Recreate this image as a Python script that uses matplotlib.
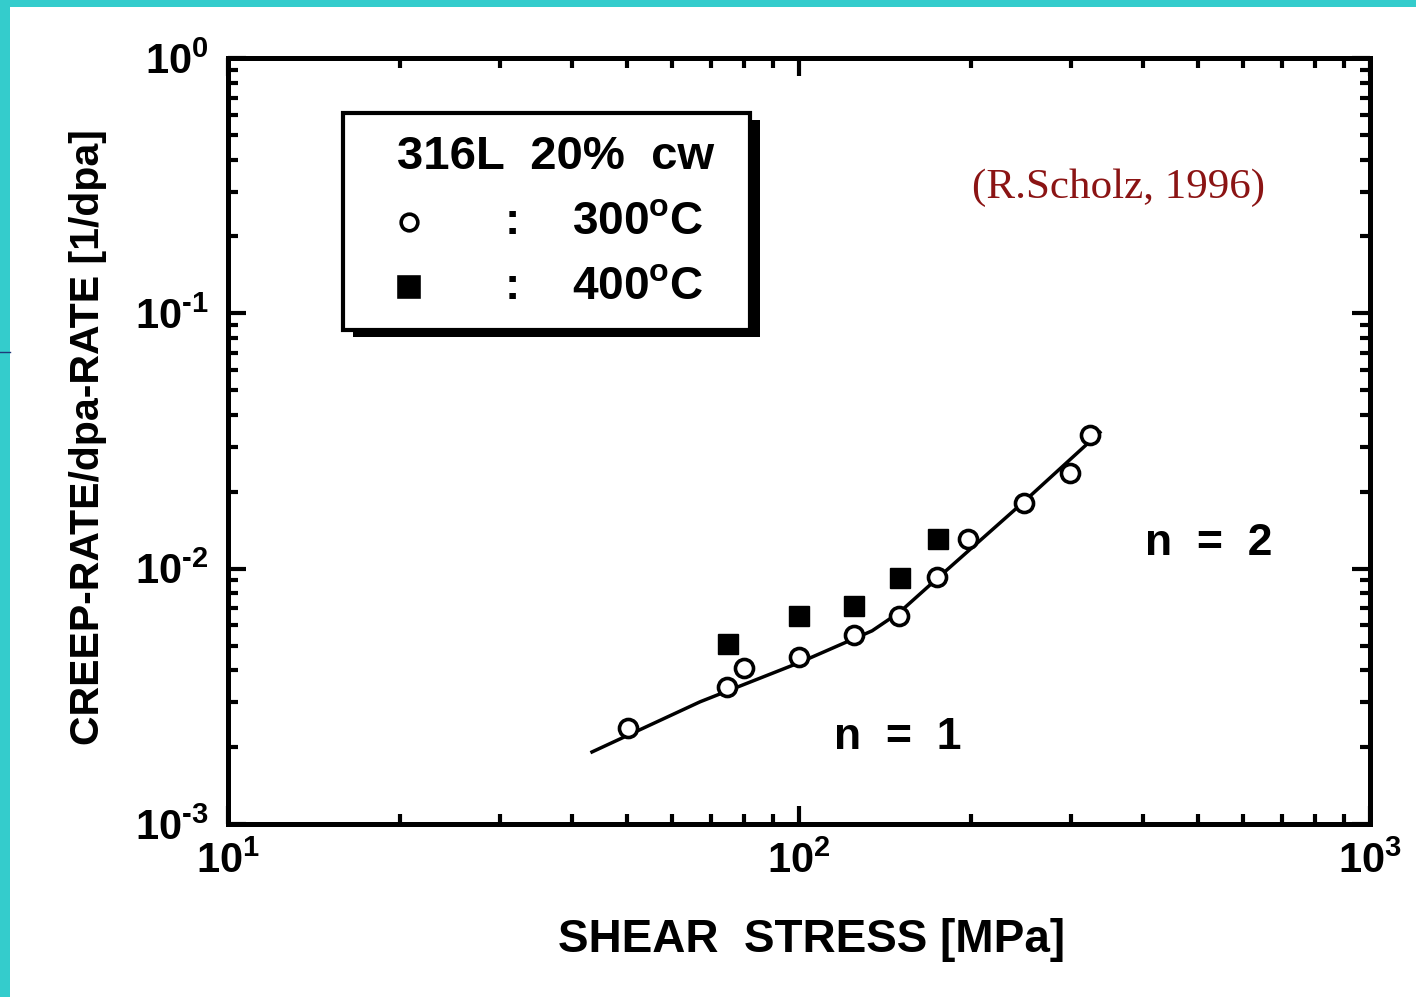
import math
import matplotlib
matplotlib.use("Agg")
import matplotlib.pyplot as plt
from matplotlib.patches import Rectangle
from matplotlib.lines import Line2D
from matplotlib.ticker import LogLocator, FuncFormatter, NullFormatter

# ---- data -------------------------------------------------------------
stress_300 = [50.2, 74.8, 80.1, 100.0, 124.8, 149.7, 174.5, 197.7, 247.7, 298.3, 323.3]
rate_300 = [2.38e-3, 3.45e-3, 4.09e-3, 4.52e-3, 5.51e-3, 6.54e-3, 9.30e-3, 1.31e-2, 1.80e-2, 2.38e-2, 3.35e-2]

stress_400 = [75.0, 100.0, 125.0, 150.0, 175.0]
rate_400 = [5.08e-3, 6.54e-3, 7.16e-3, 9.22e-3, 1.31e-2]

# fitted curve (n = 1 branch, then n = 2 branch)
fit_stress = [43.4, 67.1, 100.0, 134.3, 150.0, 174.5, 247.7, 336.5]
fit_rate = [1.915e-3, 3.01e-3, 4.28e-3, 5.71e-3, 6.75e-3, 9.14e-3, 1.83e-2, 3.42e-2]

x_label = "SHEAR  STRESS [MPa]"
y_label = "CREEP-RATE/dpa-RATE [1/dpa]"
legend_title = "316L  20%  cw"
legend_labels = [r"300$^{\mathregular{o}}$C", r"400$^{\mathregular{o}}$C"]
source_note = "(R.Scholz, 1996)"

# ---- style ------------------------------------------------------------
plt.rcParams["font.family"] = ["Liberation Sans", "DejaVu Sans"]
plt.rcParams["font.weight"] = "bold"
plt.rcParams["mathtext.default"] = "regular"

W, H = 1416, 997
fig = plt.figure(figsize=(W / 100, H / 100), dpi=100)
fig.patch.set_facecolor("white")

def fx(px):
    return px / W

def fy(py):
    return 1 - py / H

# page frame
cyan = "#34CCCC"
fig.patches.append(Rectangle((0, fy(7)), 1, 7 / H, transform=fig.transFigure,
                             facecolor=cyan, edgecolor="none", zorder=0))
fig.patches.append(Rectangle((0, 0), 10 / W, 1, transform=fig.transFigure,
                             facecolor=cyan, edgecolor="none", zorder=0))
fig.add_artist(Line2D([0, fx(10)], [fy(352), fy(352)], transform=fig.transFigure,
                      color="#1f3a7a", lw=1))

ax_left, ax_right, ax_top, ax_bottom = 228, 1370, 58, 824
ax = fig.add_axes([fx(ax_left), fy(ax_bottom), (ax_right - ax_left) / W, (ax_bottom - ax_top) / H])

ax.set_xscale("log")
ax.set_yscale("log")
ax.set_xlim(10, 1000)
ax.set_ylim(1e-3, 1)

for s in ax.spines.values():
    s.set_linewidth(3.6)

ax.xaxis.set_major_locator(LogLocator(base=10, numticks=10))
ax.yaxis.set_major_locator(LogLocator(base=10, numticks=10))
ax.xaxis.set_minor_locator(LogLocator(base=10, subs=range(2, 10), numticks=20))
ax.yaxis.set_minor_locator(LogLocator(base=10, subs=range(2, 10), numticks=20))
ax.xaxis.set_minor_formatter(NullFormatter())
ax.yaxis.set_minor_formatter(NullFormatter())

def pow_fmt(v, pos):
    e = int(round(math.log10(v)))
    exp = str(e).replace("-", "\u2010")
    return r"$\mathregular{10^{%s}}$" % exp

ax.xaxis.set_major_formatter(FuncFormatter(pow_fmt))
ax.yaxis.set_major_formatter(FuncFormatter(pow_fmt))

ax.tick_params(which="both", direction="in", top=True, right=True, width=3)
ax.tick_params(which="major", length=13, labelsize=30)
ax.tick_params(which="minor", length=7)
ax.tick_params(axis="x", which="major", pad=13)
ax.tick_params(axis="y", which="major", pad=14)

# ---- marks --------------------------------------------------------------
ax.plot(fit_stress, fit_rate, color="black", lw=2.5, zorder=2)
ax.plot(stress_300, rate_300, linestyle="none", marker="o", markersize=13,
        markerfacecolor="white", markeredgecolor="black", markeredgewidth=2.6, zorder=3)
ax.plot(stress_400, rate_400, linestyle="none", marker="s", markersize=14,
        markerfacecolor="black", markeredgecolor="black", zorder=3)

# ---- labels ------------------------------------------------------------
ax.set_xlabel(x_label, fontsize=33, fontweight="bold")
ax.set_ylabel(y_label, fontsize=29.5, fontweight="bold")
ax.xaxis.set_label_coords((812 - ax_left) / (ax_right - ax_left),
                          (ax_bottom - 940) / (ax_bottom - ax_top))
ax.xaxis.label.set_va("center")
ax.yaxis.set_label_coords((88 - ax_left) / (ax_right - ax_left),
                          (ax_bottom - 437) / (ax_bottom - ax_top))
ax.yaxis.label.set_va("center")

ax.text(149, 2.19e-3, "n  =  1", fontsize=32, fontweight="bold", ha="center", va="center")
ax.text(522, 1.25e-2, "n  =  2", fontsize=32, fontweight="bold", ha="center", va="center")

def axf(px, py):
    return ((px - ax_left) / (ax_right - ax_left), (ax_bottom - py) / (ax_bottom - ax_top))

ax.text(*axf(1118, 188), source_note, transform=ax.transAxes, ha="center", va="center",
        fontsize=31, fontweight="normal", color="#8B1414",
        family=["Liberation Serif", "DejaVu Serif"])

# ---- legend box with drop shadow --------------------------------------
bx0, by0 = axf(343, 330)
bx1, by1 = axf(750, 113)
sdx = 10 / (ax_right - ax_left)
sdy = 7 / (ax_bottom - ax_top)
ax.add_patch(Rectangle((bx0 + sdx, by0 - sdy), bx1 - bx0, by1 - by0, transform=ax.transAxes,
                       facecolor="black", edgecolor="black", lw=0, zorder=5))
ax.add_patch(Rectangle((bx0, by0), bx1 - bx0, by1 - by0, transform=ax.transAxes,
                       facecolor="white", edgecolor="black", lw=3, zorder=6))

ax.text(*axf(397, 157), legend_title, transform=ax.transAxes, ha="left", va="center",
        fontsize=34, fontweight="bold", zorder=7)
row_y = [222, 287]
for ry, lab, mk, fc in zip(row_y, legend_labels, ["o", "s"], ["white", "black"]):
    ax.plot(*axf(409, ry), transform=ax.transAxes, marker=mk, linestyle="none",
            markersize=12 if mk == "o" else 14, markerfacecolor=fc, markeredgecolor="black",
            markeredgewidth=2.6, zorder=7, clip_on=False)
    ax.text(*axf(512, ry), ":", transform=ax.transAxes, ha="center", va="center",
            fontsize=33, fontweight="bold", zorder=7)
    ax.text(*axf(572, ry), lab, transform=ax.transAxes, ha="left", va="center",
            fontsize=33, fontweight="bold", zorder=7)

fig.savefig("out.png", dpi=100, facecolor=fig.get_facecolor())
